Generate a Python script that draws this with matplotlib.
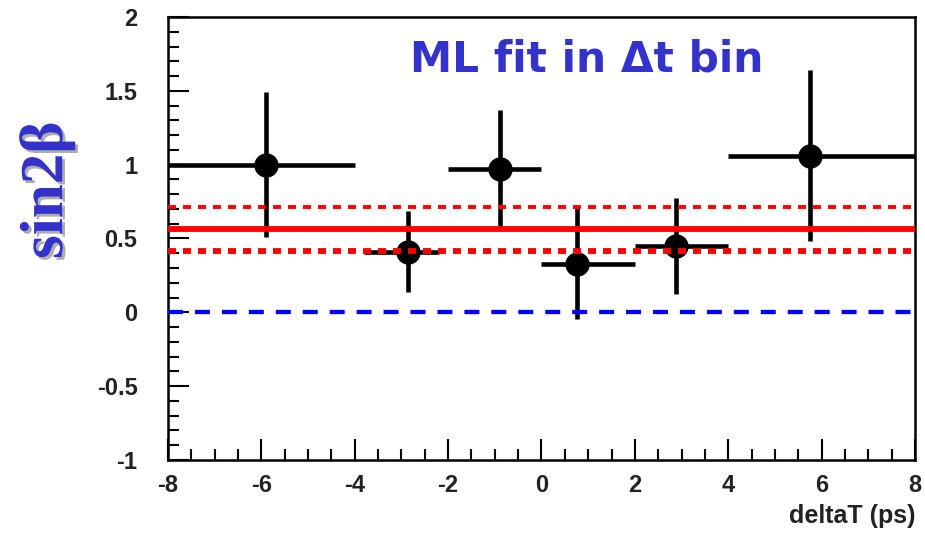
"""
sin2beta from an ML fit in bins of deltaT, with the global fit value and its error band.
"""
import matplotlib
matplotlib.use("Agg")

import matplotlib.pyplot as plt
import matplotlib.patheffects as pe
from matplotlib.ticker import MultipleLocator

# binned fit results
dt_center = [-5.9, -2.85, -0.88, 0.75, 2.88, 5.75]
dt_lo = [-8.0, -3.8, -2.0, 0.0, 2.0, 4.0]
dt_hi = [-4.0, -2.2, 0.0, 2.0, 4.0, 8.0]
s2b = [1.00, 0.41, 0.97, 0.33, 0.45, 1.06]
s2b_err = [0.49, 0.275, 0.40, 0.375, 0.325, 0.58]

# global fit and its +-1 sigma
fit_val = 0.562
fit_up = 0.711
fit_down = 0.415

plt.rcParams["lines.scale_dashes"] = False
plt.rcParams["axes.unicode_minus"] = False
TICK_FONT = ["Liberation Sans", "DejaVu Sans"]

fig = plt.figure(figsize=(9.25, 5.34), dpi=100)
ax = fig.add_axes([0.1816, 0.1386, 0.8076, 0.8296])

xerr = [[c - lo for c, lo in zip(dt_center, dt_lo)],
        [hi - c for c, hi in zip(dt_center, dt_hi)]]
ax.errorbar(dt_center, s2b, yerr=s2b_err, xerr=xerr, fmt="o", color="black",
            markersize=16.5, elinewidth=3.3, capsize=0, zorder=2)

ax.axhline(fit_val, color="#ff0000", lw=4.2, zorder=3)
ax.axhline(fit_up, color="#ff0000", lw=2.8, dashes=(5.8, 5.0), zorder=3)
ax.axhline(fit_down, color="#ff0000", lw=4.2, dashes=(5.8, 5.0), zorder=3)
ax.axhline(0, color="#0000ff", lw=3.1, dashes=(10.8, 8.6), zorder=3)

ax.set_xlim(-8, 8)
ax.set_ylim(-1, 2)
ax.xaxis.set_major_locator(MultipleLocator(2))
ax.xaxis.set_minor_locator(MultipleLocator(0.5))
ax.yaxis.set_major_locator(MultipleLocator(0.5))
ax.yaxis.set_minor_locator(MultipleLocator(0.1))
ax.set_yticks([-1, -0.5, 0, 0.5, 1, 1.5, 2], ["-1", "-0.5", "0", "0.5", "1", "1.5", "2"])

ax.tick_params(which="both", direction="in", top=False, right=False, width=1.5, color="black")
ax.tick_params(which="major", length=15)
ax.tick_params(which="minor", length=8)
ax.tick_params(axis="y", which="major", pad=22)
ax.tick_params(axis="x", which="major", pad=10)
for lab in ax.get_xticklabels() + ax.get_yticklabels():
    lab.set_family(TICK_FONT)
    lab.set_fontweight("bold")
    lab.set_fontsize(17)
    lab.set_color("#222222")

for sp in ax.spines.values():
    sp.set_linewidth(1.8)

fig.text(0.9892, 0.02, "deltaT (ps)", ha="right", va="baseline", family=TICK_FONT,
         fontweight="bold", fontsize=18, color="#222222")

ax.text(0.56, 0.905, "ML fit in \u0394t bin", transform=ax.transAxes, ha="center",
        va="center", fontsize=30.5, fontweight="bold", color="#3333cc", family="DejaVu Sans")

fig.text(0.051, 0.644, "sin2\u03b2", rotation=90, ha="center", va="center",
         family=["Liberation Serif", "DejaVu Serif"], fontweight="bold", fontsize=44,
         color="#3333cc",
         path_effects=[pe.withSimplePatchShadow(offset=(2, -2), shadow_rgbFace="#999999", alpha=0.8)])

fig.savefig("out.png", dpi=100)
